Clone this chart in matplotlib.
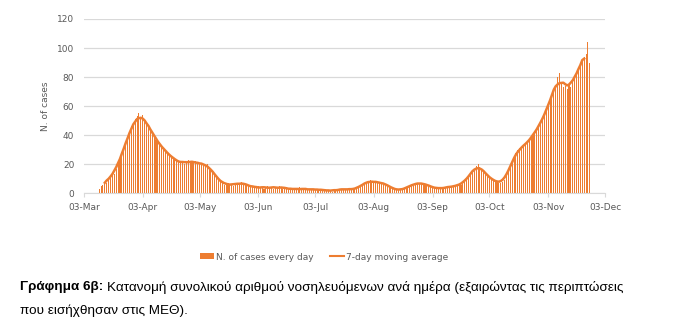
import matplotlib
matplotlib.use("Agg")
import matplotlib.pyplot as plt
import matplotlib.dates as mdates
import matplotlib.patches as mpatches
from matplotlib.lines import Line2D
import pandas as pd

ORANGE = "#ED7D31"
GRID = "#D9D9D9"
TICK = "#595959"

START = "2020-03-11"
# daily hospitalised cases, one list per month
mar = [3, 5, 6, 8, 7, 10, 12, 14, 13, 17, 20, 24, 26, 32, 34, 39, 41, 46, 47, 51, 53]
apr = [55, 52, 54, 50, 49, 47, 44, 41, 40, 37, 35, 34, 32, 30, 29, 28, 27, 25, 24, 23,
       22, 22, 21, 21, 20, 22, 23, 21, 22, 21]
may = [22, 21, 20, 21, 20, 19, 20, 18, 17, 15, 13, 11, 9, 8, 7, 6, 6, 7, 6, 6,
       5, 6, 7, 7, 8, 7, 6, 6, 5, 5, 4]
jun = [4, 4, 5, 4, 4, 3, 4, 5, 4, 4, 3, 4, 4, 5, 4, 3, 4, 4, 3, 3,
       3, 2, 3, 3, 4, 3, 3, 2, 3, 3]
jul = [3, 2, 3, 3, 2, 2, 3, 2, 2, 2, 2, 1, 2, 2, 3, 3, 2, 3, 3, 3,
       2, 3, 3, 3, 3, 4, 5, 6, 7, 8, 8]
aug = [9, 8, 8, 7, 8, 7, 8, 7, 6, 6, 5, 4, 3, 3, 2, 2, 2, 3, 3, 4,
       4, 5, 6, 6, 7, 7, 7, 7, 7, 6, 6]
sep = [5, 5, 4, 4, 3, 3, 3, 4, 4, 4, 4, 4, 5, 5, 5, 5, 6, 6, 7, 8,
       10, 12, 13, 15, 17, 19, 20, 18, 17, 15]
oct_ = [13, 12, 11, 10, 9, 8, 8, 7, 7, 8, 9, 12, 15, 19, 22, 25, 28, 30, 31, 32,
        32, 33, 35, 37, 38, 40, 42, 44, 46, 48, 51]
nov = [54, 57, 60, 64, 68, 71, 74, 80, 83, 76, 73, 74, 72, 75, 73, 77, 80, 83, 85, 88,
       92, 94, 96, 104, 90]

cases = mar + apr + may + jun + jul + aug + sep + oct_ + nov
dates = pd.date_range(START, periods=len(cases), freq="D")
daily = pd.Series(cases, index=dates)
moving = daily.rolling(7, center=True).mean()

fig = plt.figure(figsize=(6.89, 3.23), dpi=100)
ax = fig.add_axes([84 / 689, 1 - 193.3 / 323, (605 - 84) / 689, (193.3 - 19) / 323])

ax.bar(daily.index, daily.values, width=0.55, color=ORANGE, linewidth=0, zorder=2)
ax.plot(moving.index, moving.values, color=ORANGE, lw=1.8, zorder=3)

ax.set_ylim(0, 120)
ax.set_yticks(range(0, 121, 20))
ax.set_xlim(pd.Timestamp("2020-03-03"), pd.Timestamp("2020-12-03"))
ax.xaxis.set_major_locator(mdates.MonthLocator(bymonthday=3))
ax.xaxis.set_major_formatter(mdates.DateFormatter("%d-%b"))
ax.grid(axis="y", color=GRID, lw=0.9, zorder=0)
for s in ("top", "right", "left"):
    ax.spines[s].set_visible(False)
ax.spines["bottom"].set_color(GRID)
ax.tick_params(axis="y", length=0, labelsize=6.5, labelcolor=TICK, pad=7)
ax.tick_params(axis="x", length=3, color=GRID, labelsize=6.5, labelcolor=TICK, pad=4)
ax.set_ylabel("N. of cases", fontsize=6.5, color=TICK, labelpad=5)

handles = [mpatches.Patch(facecolor=ORANGE, label="N. of cases every day"),
           Line2D([], [], color=ORANGE, lw=1.5, label="7-day moving average")]
fig.legend(handles=handles, loc="center", bbox_to_anchor=(0.47, 1 - 257 / 323), ncol=2,
           frameon=False, fontsize=6.5, labelcolor=TICK, handlelength=1.6,
           handleheight=0.6, handletextpad=0.2, columnspacing=1.8)

# caption (bold prefix + regular text)
cap_kw = dict(fontsize=9.7, family="Liberation Sans", va="center", ha="left")
t = fig.text(20 / 689, 1 - 287 / 323, "Γράφημα 6β:", fontweight="bold", **cap_kw)
fig.canvas.draw()
bb = t.get_window_extent()
fig.text((bb.x1 + 4) / 689, 1 - 287 / 323,
         "Κατανομή συνολικού αριθμού νοσηλευόμενων ανά ημέρα (εξαιρώντας τις περιπτώσεις",
         **cap_kw)
fig.text(20 / 689, 1 - 311 / 323, "που εισήχθησαν στις ΜΕΘ).", **cap_kw)

fig.savefig("out.png", dpi=100, facecolor="white")
